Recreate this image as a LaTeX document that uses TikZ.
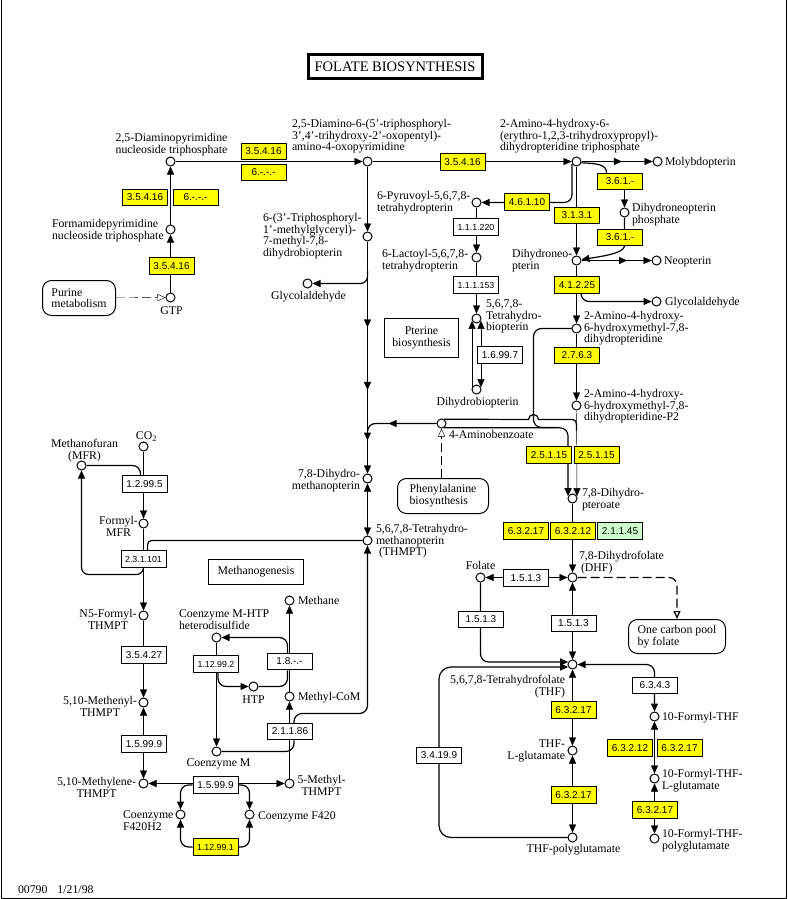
\documentclass[tikz,border=0pt]{standalone}
\usepackage{fontspec}
\setmainfont{Liberation Serif}
\setsansfont{Liberation Sans}
\usetikzlibrary{arrows.meta,decorations.markings}
\definecolor{enzyellow}{RGB}{255,255,0}
\definecolor{enzgreen}{RGB}{204,255,204}
\pgfdeclarelayer{bg}
\pgfsetlayers{bg,main}

\begin{document}
\begin{tikzpicture}[x=1pt,y=-1pt,shift={(0.5,0.5)},line width=1pt,
  cpd/.style={circle, draw, fill=white, minimum size=9pt, inner sep=0pt},
  enz/.style={draw, fill=enzyellow, minimum width=45pt, minimum height=16.5pt, inner sep=0pt, font=\sffamily\fontsize{10}{10}\selectfont},
  enzw/.style={enz, fill=white},
  enzs/.style={font=\sffamily\fontsize{8.8}{10}\selectfont},
  lbl/.style={inner sep=0pt, font=\fontsize{11.8}{11.7}\selectfont},
  pmap/.style={draw, fill=white, rounded corners=9pt, align=left, inner sep=0pt, minimum width=73pt, minimum height=35pt, font=\fontsize{11.8}{11.7}\selectfont},
  plainbox/.style={draw, fill=white, align=center, inner sep=0pt, font=\fontsize{11.8}{11.7}\selectfont},
  crv/.style={line width=1.2pt},
  arr/.style={-{Triangle[length=8pt,width=7pt]}},
  twoway/.style={{Triangle[length=8pt,width=7pt]}-{Triangle[length=8pt,width=7pt]}},
  openarr/.style={-{Triangle[open,length=8pt,width=7pt,fill=white]}},
  dsh/.style={dash pattern=on 9pt off 4pt},
  midtip/.style={postaction={decorate}, decoration={markings, mark=at position #1 with {\arrow{Triangle[length=8pt,width=7pt]}}}},
  midtwo/.style 2 args={postaction={decorate}, decoration={markings, mark=at position #1 with {\arrow{Triangle[length=8pt,width=7pt]}}, mark=at position #2 with {\arrow{Triangle[length=8pt,width=7pt]}}}}]
\useasboundingbox (-0.5,-0.5) rectangle (786.5,898.5);
\draw (1,-1) -- (1,898) -- (786,898) -- (786,-1);

\node[draw, line width=3pt, minimum width=174pt, minimum height=23pt, inner sep=0pt, font=\fontsize{14.5}{15}\selectfont] (ttl) at (394.5,66) {FOLATE BIOSYNTHESIS};
\node[lbl, anchor=base west] (ftr) at (17,893) {00790\hspace{10pt}1/21/98};

\node[cpd] (dap) at (170,161) {};
\node[lbl, align=center, anchor=base] (ldap) at (171,152.7) {2,5-Diaminopyrimidine\\nucleoside triphosphate};
\node[cpd] (fap) at (170,229) {};
\node[lbl, align=left, anchor=base west] (lfap) at (51,238.7) {Formamidepyrimidine\\nucleoside triphosphate};
\node[cpd] (gtp) at (170,297) {};
\node[lbl, anchor=base] (lgtp) at (171,314) {GTP};
\node[pmap] (pur) at (78.5,297.5) {Purine\\metabolism};
\node[enz] (e35416c) at (171,265.5) {3.5.4.16};
\node[enz] (e35416b) at (144.5,197) {3.5.4.16};
\node[enz] (e6b) at (195,197) {6.-.-.-};
\node[enz] (e35416a) at (263,151) {3.5.4.16};
\node[enz] (e6a) at (263,172) {6.-.-.-};

\node[cpd] (dtp) at (367,161) {};
\node[lbl, align=left, anchor=base west] (ldtp) at (291,150.4) {2,5-Diamino-6-(5'-triphosphoryl-\\3',4'-trihydroxy-2'-oxopentyl)-\\amino-4-oxopyrimidine};
\node[enz] (e35416d) at (462,161.5) {3.5.4.16};
\node[cpd] (tmd) at (367,236) {};
\node[lbl, align=left, anchor=base west] (ltmd) at (262,256.1) {6-(3'-Triphosphoryl-\\1'-methylglyceryl)-\\7-methyl-7,8-\\dihydrobiopterin};
\node[cpd] (gly1) at (307,283) {};
\node[lbl, anchor=base] (lgly1) at (308,299) {Glycolaldehyde};
\coordinate (br1) at (367,270);

\node[cpd] (tph) at (576,161) {};
\node[lbl, align=left, anchor=base west] (ltph) at (499,150.4) {2-Amino-4-hydroxy-6-\\(erythro-1,2,3-trihydroxypropyl)-\\dihydropteridine triphosphate};
\node[cpd] (mol) at (657,161) {};
\node[lbl, anchor=base west] (lmol) at (664,165) {Molybdopterin};
\node[enz] (e361a) at (619.5,181) {3.6.1.-};
\node[cpd] (dnp) at (624,212) {};
\node[lbl, align=left, anchor=base west] (ldnp) at (631,222.7) {Dihydroneopterin\\phosphate};
\node[enz] (e361b) at (619.5,237) {3.6.1.-};
\node[enz] (e3131) at (576.5,215) {3.1.3.1};
\node[enz] (e46110) at (526.5,201.5) {4.6.1.10};
\node[cpd] (dnt) at (576,260) {};
\node[lbl, align=left, anchor=base west] (ldnt) at (511,268.7) {Dihydroneo-\\pterin};
\node[cpd] (neo) at (656,260) {};
\node[lbl, anchor=base west] (lneo) at (663,264) {Neopterin};
\node[enz] (e41225) at (576.5,284.5) {4.1.2.25};
\node[cpd] (gly2) at (656,301) {};
\node[lbl, anchor=base west] (lgly2) at (664,305) {Glycolaldehyde};
\node[cpd] (hmd) at (576,328) {};
\node[lbl, align=left, anchor=base west] (lhmd) at (583,342.4) {2-Amino-4-hydroxy-\\6-hydroxymethyl-7,8-\\dihydropteridine};
\node[enz] (e2763) at (576.5,355) {2.7.6.3};
\node[cpd] (hmp) at (576,405) {};
\node[lbl, align=left, anchor=base west] (lhmp) at (583,420.4) {2-Amino-4-hydroxy-\\6-hydroxymethyl-7,8-\\dihydropteridine-P2};
\node[enz] (e25115a) at (548.5,454.5) {2.5.1.15};
\node[enz] (e25115b) at (596,454.5) {2.5.1.15};
\node[cpd] (dpt) at (572,498) {};
\node[lbl, align=left, anchor=base west] (ldpt) at (581,507.7) {7,8-Dihydro-\\pteroate};
\node[enz] (e63217a) at (525.5,530.5) {6.3.2.17};
\node[enz] (e63212a) at (572.5,530.5) {6.3.2.12};
\node[enz, fill=enzgreen] (e21145) at (619.5,530.5) {2.1.1.45};

\node[cpd] (pyr) at (476,202) {};
\node[lbl, align=left, anchor=base west] (lpyr) at (376,210.7) {6-Pyruvoyl-5,6,7,8-\\tetrahydropterin};
\node[enzw, enzs] (e111220) at (475.5,226.5) {1.1.1.220};
\node[cpd] (lac) at (476,257) {};
\node[lbl, align=left, anchor=base west] (llac) at (381,268.7) {6-Lactoyl-5,6,7,8-\\tetrahydropterin};
\node[enzw, enzs] (e111153) at (475.5,284.5) {1.1.1.153};
\node[cpd] (thb) at (476,318) {};
\node[lbl, align=left, anchor=base west] (lthb) at (485,330.4) {5,6,7,8-\\Tetrahydro-\\biopterin};
\node[enzw] (e16997) at (499.5,354.5) {1.6.99.7};
\node[cpd] (dhb) at (476,389) {};
\node[lbl, anchor=base] (ldhb) at (477,405) {Dihydrobiopterin};
\node[plainbox, minimum width=74pt, minimum height=39pt] (pte) at (421,337.5) {Pterine\\biosynthesis};

\node[cpd] (pab) at (441,423) {};
\node[lbl, anchor=base west] (lpab) at (448,438) {4-Aminobenzoate};
\node[pmap, minimum width=91pt] (phe) at (442.5,495.5) {Phenylalanine\\biosynthesis};
\node[cpd] (dmp) at (367,478) {};
\node[lbl, align=right, anchor=base east] (ldmp) at (360,488.7) {7,8-Dihydro-\\methanopterin};
\node[cpd] (thm) at (367,540) {};
\node[lbl, align=left, anchor=base west] (lthm) at (375,555.4) {5,6,7,8-Tetrahydro-\\methanopterin\\\hspace{3pt}(THMPT)};
\coordinate (j1) at (576,430);
\coordinate (j2) at (533,427);
\coordinate (j3) at (555,427);
\coordinate (j4) at (528,419);
\coordinate (j5) at (568,419);
\coordinate (j6) at (367,440);

\node[cpd] (co2) at (143,446) {};
\node[lbl, anchor=base] (lco2) at (146,439) {CO\textsubscript{2}};
\node[cpd] (mfr) at (81,465) {};
\node[lbl, align=center, anchor=base] (lmfr) at (84,458.7) {Methanofuran\\(MFR)};
\node[enzw] (e12995) at (144,483.5) {1.2.99.5};
\node[cpd] (fmf) at (143,523) {};
\node[lbl, align=center, anchor=base] (lfmf) at (118,535.7) {Formyl-\\MFR};
\node[enzw, enzs] (e231101) at (143,558.5) {2.3.1.101};
\node[plainbox, minimum width=95pt, minimum height=25pt] (mgn) at (255.5,571.5) {Methanogenesis};
\node[cpd] (n5f) at (143,615) {};
\node[lbl, align=center, anchor=base] (ln5f) at (107.5,628.7) {N5-Formyl-\\THMPT};
\node[enzw] (e35427) at (143.5,654.5) {3.5.4.27};
\node[cpd] (mny) at (143,702) {};
\node[lbl, align=center, anchor=base] (lmny) at (99.5,715.7) {5,10-Methenyl-\\THMPT};
\node[enzw] (e15999a) at (143.5,743.5) {1.5.99.9};
\node[cpd] (mly) at (143,783) {};
\node[lbl, align=center, anchor=base] (lmly) at (96,796.7) {5,10-Methylene-\\THMPT};
\node[enzw] (e15999b) at (215,784.5) {1.5.99.9};
\node[cpd] (mth) at (289,783) {};
\node[lbl, align=center, anchor=base] (lmth) at (321,794.7) {5-Methyl-\\THMPT};
\node[cpd] (f4h) at (180,814) {};
\node[lbl, align=left, anchor=base west] (lf4h) at (122,829.7) {Coenzyme\\F420H2};
\node[cpd] (f42) at (249,814) {};
\node[lbl, anchor=base west] (lf42) at (257,819) {Coenzyme F420};
\node[enz, enzs] (e112991) at (215,846.5) {1.12.99.1};
\node[cpd] (mcm) at (289,696) {};
\node[lbl, anchor=base west] (lmcm) at (297,700) {Methyl-CoM};
\node[enzw] (e21186) at (289.5,731) {2.1.1.86};
\node[cpd] (com) at (216,751) {};
\node[lbl, anchor=base] (lcom) at (218,766) {Coenzyme M};
\node[enzw] (e18) at (289,661) {1.8.-.-};
\node[cpd] (mtn) at (289,600) {};
\node[lbl, anchor=base west] (lmtn) at (297,604) {Methane};
\node[cpd] (hds) at (216,637) {};
\node[lbl, align=left, anchor=base west] (lhds) at (178,628.7) {Coenzyme M-HTP\\heterodisulfide};
\node[cpd] (htp) at (253,686) {};
\node[lbl, anchor=base] (lhtp) at (253,703) {HTP};
\node[enzw, enzs] (e112992) at (215.5,663.5) {1.12.99.2};
\coordinate (j7) at (156,540);
\coordinate (j8) at (81,574);
\coordinate (j9) at (367,713);

\node[cpd] (dhf) at (572,577) {};
\node[lbl, align=left, anchor=base west] (ldhf) at (578,570.7) {7,8-Dihydrofolate\\\hspace{2pt}(DHF)};
\node[cpd] (fol) at (480,577) {};
\node[lbl, anchor=base] (lfol) at (480,569) {Folate};
\node[enzw] (e1513a) at (525.5,577.5) {1.5.1.3};
\node[pmap, minimum width=97pt, minimum height=34pt] (ocp) at (676.5,636) {One carbon pool\\by folate};
\node[enzw] (e1513b) at (573,623) {1.5.1.3};
\node[enzw] (e1513c) at (480.5,619) {1.5.1.3};
\node[cpd] (thf) at (572,664) {};
\node[lbl, align=right, anchor=base east] (lthf) at (565,694.7) {5,6,7,8-Tetrahydrofolate\\(THF)};
\node[enz] (e63217b) at (573,709.5) {6.3.2.17};
\node[cpd] (tlg) at (572,750) {};
\node[lbl, align=right, anchor=base east] (ltlg) at (565,758.7) {THF-\\L-glutamate};
\node[enz] (e63217c) at (573,794.5) {6.3.2.17};
\node[cpd] (tpg) at (572,837) {};
\node[lbl, anchor=base] (ltpg) at (573,852) {THF-polyglutamate};
\node[enzw] (e34199) at (438.5,755) {3.4.19.9};
\node[enzw] (e6343) at (654.5,685) {6.3.4.3};
\node[cpd] (fth) at (654,716) {};
\node[lbl, anchor=base west] (lfth) at (661,720) {10-Formyl-THF};
\node[enz] (e63212b) at (629.5,747.5) {6.3.2.12};
\node[enz] (e63217d) at (679,747.5) {6.3.2.17};
\node[cpd] (ftl) at (654,778) {};
\node[lbl, align=left, anchor=base west] (lftl) at (661,788.7) {10-Formyl-THF-\\L-glutamate};
\node[enz] (e63217e) at (654.5,809.5) {6.3.2.17};
\node[cpd] (ftp) at (654,838) {};
\node[lbl, align=left, anchor=base west] (lftp) at (661,848.7) {10-Formyl-THF-\\polyglutamate};

\begin{pgfonlayer}{bg}
\draw[arr] (gtp) -- (fap);
\draw[arr] (fap) -- (dap);
\draw[dsh, openarr] (pur) -- (gtp);
\draw[arr] (dap) -- (dtp);
\draw[arr] (dtp) -- (tph);
\draw[arr] (dtp) -- (tmd);
\draw[arr, midtwo={0.37}{0.64}] (tmd) -- (dmp);
\draw[arr, crv, rounded corners=7] (br1) |- (gly1);
\draw[arr, crv, midtip=0.58, rounded corners=8] (pab) -| (j6);
\draw[dsh, openarr] (phe.north -| pab) -- (pab);
\draw[twoway] (dmp) -- (thm);
\draw[arr, midtip=0.57] (tph) -- (mol);
\draw[crv] (tph.-15) .. controls (597,163) and (606,164) .. ([xshift=-13.5pt]e361a.north);
\draw[arr] (e361a.south -| dnp) -- (dnp);
\draw[arr, crv] (dnp) -- (dnp |- e361b.south) .. controls (623,253) and (600,256) .. (dnt);
\draw[arr] (tph) -- (dnt);
\draw[arr, crv, rounded corners=8] (tph.207) |- (pyr);
\draw[arr] (pyr) -- (lac);
\draw[arr] (lac) -- (thb);
\draw[arr] (dhb.153) -- (thb.207);
\draw[twoway] (thb.333) -- (dhb.27);
\draw[arr, midtip=0.65] (dnt) -- (neo);
\draw[arr] (dnt) -- (hmd);
\draw[arr, crv, rounded corners=8] ([xshift=4pt]e41225.south) |- (gly2);
\draw[arr] (hmd) -- (hmp);
\draw[crv, rounded corners=8] (hmd) -| (j2) -- (j3);
\draw[crv] (pab.60) -- (j4) arc[start angle=180, end angle=360, radius=5] -- (j5) .. controls (576,419) .. (j1);
\draw[arr, crv, rounded corners=8] (pab.-60) -| (dpt.153);
\draw[arr] (hmp) -- (dpt.27);
\draw[arr] (dpt) -- (dhf);
\draw[twoway] (fol) -- (dhf);
\draw[dsh, crv, openarr, rounded corners=8] (dhf) -| (ocp.north);
\draw[twoway] (dhf) -- (thf);
\draw[arr, crv, rounded corners=8] (fol) |- (thf.150);
\draw[arr, crv, rounded corners=12] (tpg) -| (e34199.center) |- (thf.210);
\draw[twoway] (thf) -- (tlg);
\draw[twoway] (tlg) -- (tpg);
\draw[twoway, crv, rounded corners=8] (thf) -| (fth);
\draw[twoway] (fth) -- (ftl);
\draw[twoway] (ftl) -- (ftp);
\draw[arr] (co2) -- (fmf);
\draw[crv, rounded corners=8] (mfr) -| ([xshift=-4pt]e12995.north);
\draw[arr] (fmf) -- (n5f);
\draw[crv] (thm) -- (j7) .. controls (147,540) .. ([xshift=4pt]e231101.north);
\draw[arr, crv, rounded corners=7] (e231101.south) |- (j8) -- (mfr);
\draw[arr] (n5f) -- (mny);
\draw[twoway] (mny) -- (mly);
\draw[twoway] (mly) -- (mth);
\draw[arr, crv, rounded corners=8] (e15999b.west) -| (f4h);
\draw[arr, crv, rounded corners=8] (e15999b.east) -| (f42);
\draw[arr, crv, rounded corners=8] (e112991.west) -| (f4h);
\draw[arr, crv, rounded corners=8] (e112991.east) -| (f42);
\draw[arr] (mth) -- (mcm);
\draw[arr, crv, rounded corners=8] ([xshift=4pt]e21186.north) |- (j9) -- (thm);
\draw[crv, rounded corners=8] ([xshift=4pt]e21186.south) |- (com);
\draw[arr] (mcm) -- (mtn);
\draw[arr, crv, rounded corners=8] ([xshift=-2pt]e18.north) |- (hds);
\draw[crv, rounded corners=8] ([xshift=-2pt]e18.south) |- (htp);
\draw[arr] (hds) -- (com);
\draw[arr, crv, rounded corners=8] ([xshift=2pt]e112992.south) |- (htp);
\end{pgfonlayer}
\end{tikzpicture}
\end{document}
